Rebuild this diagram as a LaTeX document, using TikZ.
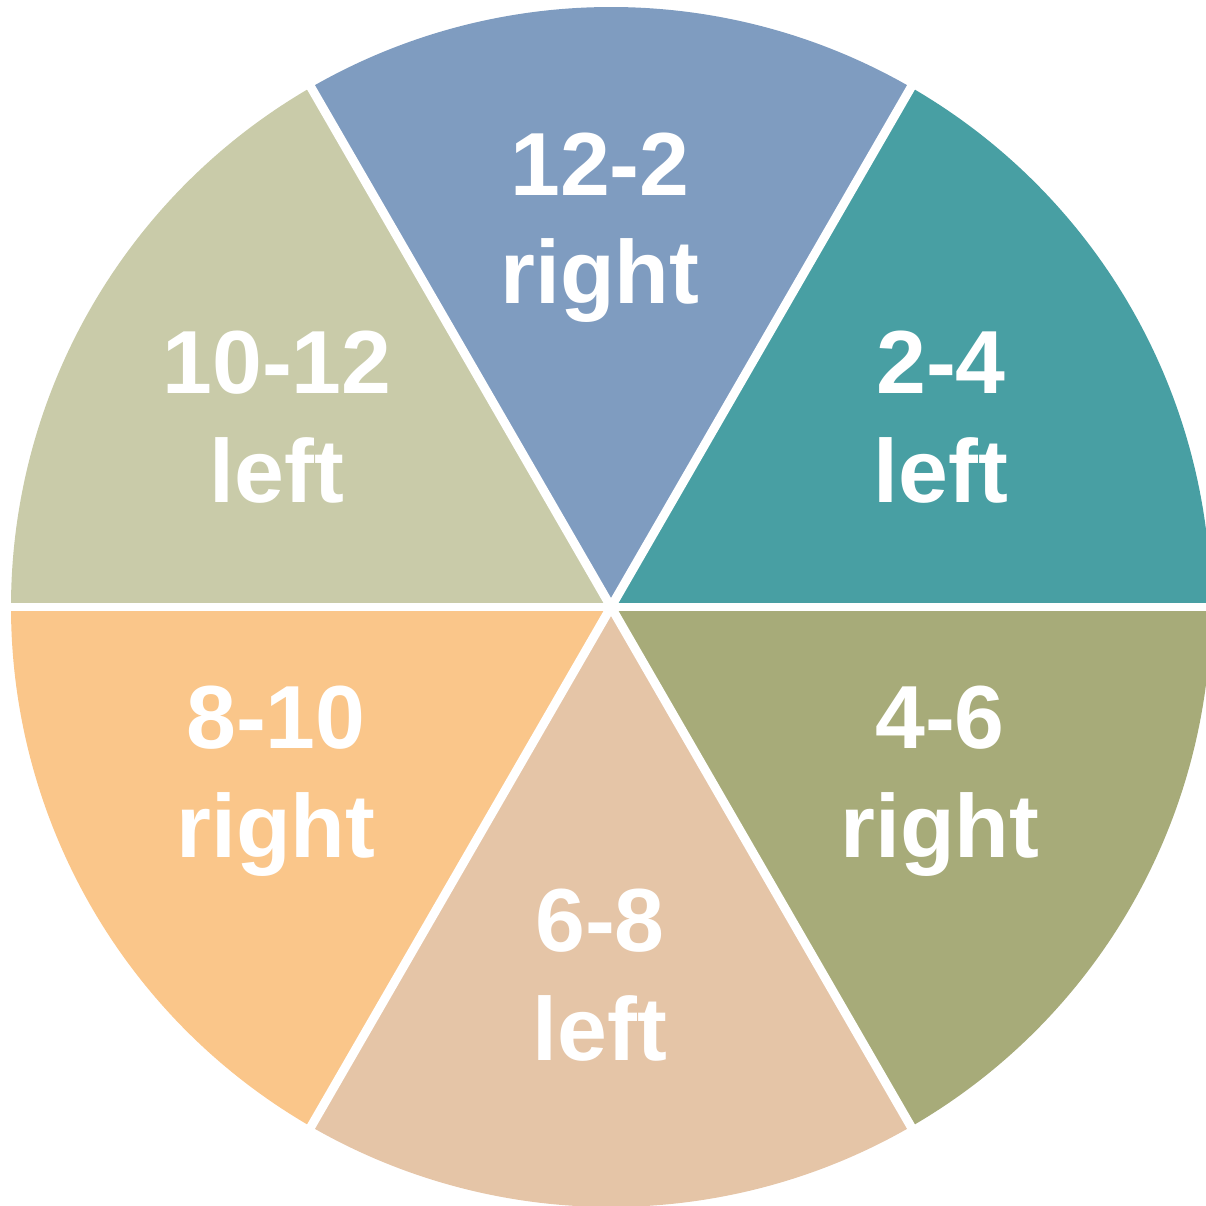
\documentclass[tikz,border=0pt]{standalone}
\usepackage{fontspec}
\setmainfont{Liberation Sans}

\definecolor{segA}{HTML}{7F9CC0}
\definecolor{segB}{HTML}{489FA3}
\definecolor{segC}{HTML}{A7AB79}
\definecolor{segD}{HTML}{E5C5A7}
\definecolor{segE}{HTML}{FAC68A}
\definecolor{segF}{HTML}{C9CBA9}

\begin{document}
\begin{tikzpicture}[x=0.02cm, y=0.02cm, every node/.style={text=white, font=\fontsize{51}{61.5}\selectfont\bfseries, align=center, inner sep=0pt, anchor=base}]

\useasboundingbox (0,0) rectangle (1206,1205);
\coordinate (c) at (611,598);

\fill[segB] (c) -- ++(0:600) arc (0:60:600) -- cycle;
\fill[segA] (c) -- ++(60:600) arc (60:120:600) -- cycle;
\fill[segF] (c) -- ++(120:600) arc (120:180:600) -- cycle;
\fill[segE] (c) -- ++(180:600) arc (180:240:600) -- cycle;
\fill[segD] (c) -- ++(240:600) arc (240:300:600) -- cycle;
\fill[segC] (c) -- ++(300:600) arc (300:360:600) -- cycle;

\foreach \a in {0,60,...,300} {
    \draw[white, line width=5.1pt] (c) -- ++(\a:620);
}

\node (s12) at (600,901) {12-2\\right};
\node (s2) at (941,703) {2-4\\left};
\node (s4) at (940,348) {4-6\\right};
\node (s6) at (600,145) {6-8\\left};
\node (s8) at (276,348) {8-10\\right};
\node (s10) at (277,703) {10-12\\left};

\end{tikzpicture}
\end{document}
